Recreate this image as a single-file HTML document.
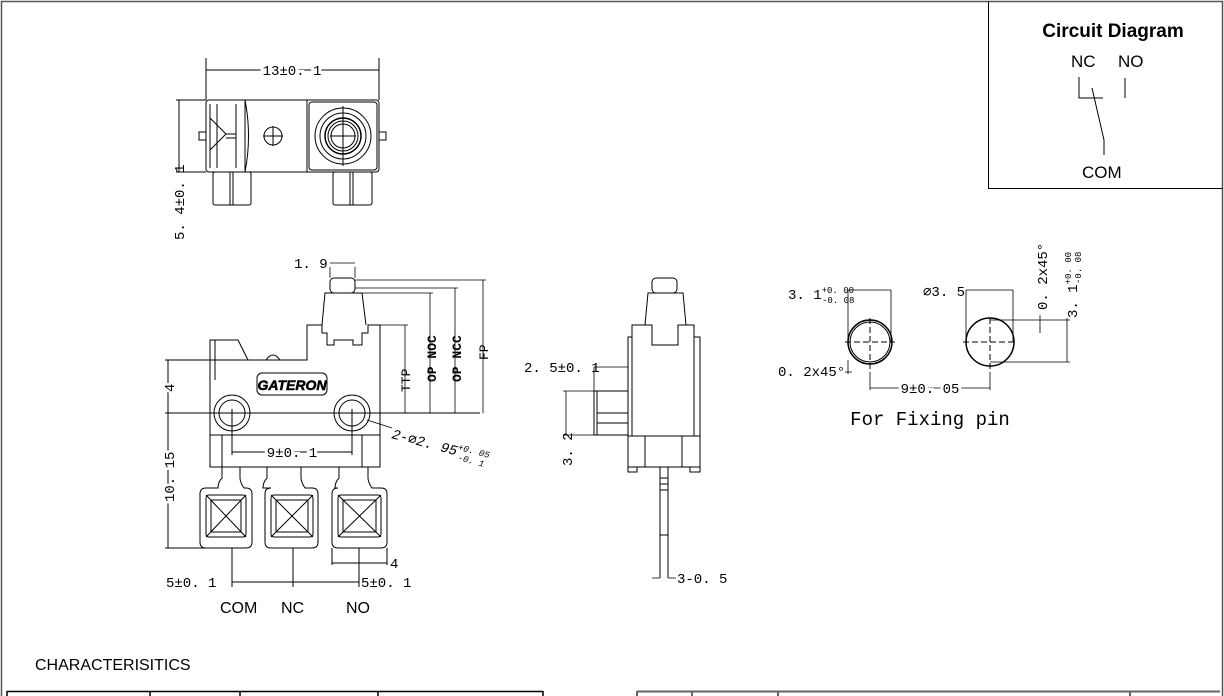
<!DOCTYPE html>
<html><head><meta charset="utf-8"><style>
html,body{margin:0;padding:0;background:#fff}
svg{display:block}
text{font-family:"Liberation Mono","DejaVu Sans Mono",monospace;fill:#000}
.s{font-family:"Liberation Sans",sans-serif}
.r{font-family:"Liberation Serif",serif}
</style></head><body>
<svg width="1224" height="696" viewBox="0 0 1224 696" xmlns="http://www.w3.org/2000/svg">
<g fill="none" stroke="#000" stroke-width="1">
<path d="M1.5 696 V1.5 H1222.5 V696" stroke="#555" stroke-width="1.5"/>
<path d="M988.5 1.5 V188.5 H1222.5"/>
<path d="M1079 77 V98 H1103 M1125 78 V98 M1092 88 L1104 140 V155"/>
<path d="M7 691.5 H543 M7 691 V696 M150 691 V696 M240 691 V696 M378 691 V696 M543 691 V696" stroke-width="1.5"/>
<path d="M637 691.5 H1220 M637 691 V696 M692 691 V696 M778 691 V696 M1130 691 V696" stroke="#666" stroke-width="2"/>

<!-- TOP VIEW -->
<path d="M206 58 V100 M379 58 V100 M206 70 H379"/>
<rect x="206" y="100" width="173" height="72" rx="3"/>
<path d="M245 100 V172 M307 100 V172 M210 104 V168 M217 104 V168 M236 104 V168"/>
<path d="M210 118 L226 134 L210 150 M226 134 H236 M226 138 H236"/>
<path d="M245 100 Q252 136 245 172"/>
<circle cx="273" cy="136" r="9"/><path d="M263 136 H283 M273 126 V146"/>
<rect x="309" y="102" width="68" height="68" rx="3"/>
<circle cx="343" cy="136" r="28"/><circle cx="343" cy="136" r="23"/><circle cx="343" cy="136" r="18" stroke-width="1.5"/><circle cx="343" cy="136" r="15"/><circle cx="343" cy="136" r="12"/>
<path d="M330 136 H356 M343 106 V166"/>
<rect x="199" y="132" width="7" height="8"/><rect x="379" y="132" width="7" height="8"/>
<rect x="213" y="172" width="38" height="33" rx="2"/><path d="M230 172 V205 M233 172 V205"/>
<rect x="333" y="172" width="39" height="33" rx="2"/><path d="M350 172 V205 M353 172 V205"/>
<path d="M176 100 H206 M176 172 H206 M179 100 V172"/>

<!-- FRONT VIEW -->
<rect x="330" y="278" width="25" height="15" rx="4"/>
<path d="M322 325 L325 293 H362 L366 325"/>
<path d="M307 360 V325 H322 V333 H327 V345 H334 V340 H353 V345 H362 V333 H368 V325 H380 V435 H210 V360 Z"/>
<path d="M210 360 V340 H220 L238 340 L248 360 M215 340 V380 M243 360 H307"/>
<path d="M266 360 Q273 350 280 360"/>
<rect x="257" y="373" width="70" height="22" rx="5"/>
<rect x="210" y="435" width="170" height="32"/>
<path d="M222 435 V467 M362 435 V467"/>
<circle cx="232" cy="413" r="18"/><circle cx="232" cy="413" r="13"/>
<circle cx="352" cy="413" r="18"/><circle cx="352" cy="413" r="13"/>
<path d="M228 413 H236 M232 409 V417 M348 413 H356 M352 409 V417"/>
<g>
<path d="M222 467 V478 Q218 482 218 488 H206 Q200 488 200 494 V542 Q200 548 206 548 H246 Q252 548 252 542 V494 Q252 488 246 488 H244 Q240 482 240 478 V467"/>
<path d="M267 467 V478 Q263 482 263 488 H271 Q265 488 265 494 V542 Q265 548 271 548 H312 Q318 548 318 542 V494 Q318 488 312 488 H305 Q301 482 301 478 V467"/>
<path d="M339 467 V478 Q335 482 335 488 H338 Q332 488 332 494 V542 Q332 548 338 548 H381 Q387 548 387 542 V494 Q387 488 381 488 H372 Q368 482 368 478 V467"/>
<rect x="206" y="495" width="40" height="42" rx="3"/><path d="M206 495 L246 537 M246 495 L206 537"/><rect x="211" y="500" width="30" height="32"/>
<rect x="271" y="495" width="42" height="42" rx="3"/><path d="M271 495 L313 537 M313 495 L271 537"/><rect x="276" y="500" width="32" height="32"/>
<rect x="338" y="495" width="43" height="42" rx="3"/><path d="M338 495 L381 537 M381 495 L338 537"/><rect x="343" y="500" width="33" height="32"/>
</g>
<path d="M165 360 H210 M165 413 H480 M165 548 H205 M168 360 V548"/>
<path d="M330 267 V278 M355 267 V278 M330 263 H355" stroke-width="0.8"/>
<path d="M355 280 H486 M355 288 H458 M355 293 H433 M380 325 H408 M405 325 V413 M430 293 V413 M455 288 V413 M483 280 V413" stroke-width="0.8"/>
<path d="M232 413 V455 M352 413 V455 M232 452 H352"/>
<path d="M232 548 V587 M293 548 V587 M359 548 V587 M232 582 H359"/>
<path d="M332 548 V565 M387 548 V565 M332 563 H387"/>
<path d="M367 420 L392 428" stroke-width="0.8"/>

<!-- SIDE VIEW -->
<rect x="652" y="278" width="25" height="15" rx="4"/>
<path d="M645 325 L648 293 H683 L686 325"/>
<path d="M628 337 H632 V325 H652 V345 H678 V325 H694 V337 H700 V436 H628 Z M632 337 V436 M694 337 V436"/>
<rect x="628" y="436" width="72" height="31"/>
<path d="M645 436 V467 M682 436 V467 M628 467 V472 H637 V467 M690 467 V472 H700 V467"/>
<path d="M660 467 V578 M668 467 V578 M660 478 H668 M660 484 H668 M660 490 H668 M660 535 H668"/>
<rect x="594" y="391" width="34" height="44"/><path d="M597 391 V435 M597 413 H628 M597 423 H628"/>
<path d="M594 367 H628 M594 367 V391 M563 391 H594 M563 435 H594 M566 391 V435" stroke-width="0.8"/>
<path d="M660 578 H652 M668 578 H676" stroke-width="0.8"/>

<!-- FIXING PIN -->
<circle cx="870" cy="342" r="22" stroke-width="1.5"/><circle cx="870" cy="342" r="20"/>
<path d="M845 342 H895 M870 318 V372" stroke-dasharray="6 3"/>
<path d="M848 290 V342 M891 290 V342 M848 290 H891 M848 360 V374 M845 372 H852" stroke-width="0.8"/>
<path d="M966 342 A24 24 0 0 1 1014 342 A24 24 0 0 1 966 342" stroke-width="1.5"/>
<path d="M963 342 H1016 M990 318 V372" stroke-dasharray="6 3"/>
<path d="M966 290 V342 M1013 290 V342 M966 290 H1013" stroke-width="0.8"/>
<path d="M990 320 H1070 M990 362 H1070 M1067 318 V362 M1040 315 V333" stroke-width="0.8"/>
<path d="M870 372 V390 M990 372 V390 M870 388 H990" stroke-width="0.8"/>
</g>

<!-- TEXT -->
<text x="1113" y="37" text-anchor="middle" class="s" font-size="19" font-weight="bold">Circuit Diagram</text>
<text x="1071" y="67" class="s" font-size="17">NC</text>
<text x="1118" y="67" class="s" font-size="17">NO</text>
<text x="1082" y="178" class="s" font-size="17">COM</text>

<text x="292" y="75" text-anchor="middle" font-size="14" style="paint-order:stroke" stroke="#fff" stroke-width="6">13±0. 1</text>
<text transform="translate(184,240) rotate(-90)" font-size="14">5. 4±0. 1</text>

<text x="294" y="268" font-size="14">1. 9</text>
<text transform="translate(410,392) rotate(-90)" font-size="13" fill="#444">TTP</text>
<text transform="translate(436,382) rotate(-90)" font-size="13" font-weight="bold">OP NOC</text>
<text transform="translate(461,382) rotate(-90)" font-size="13" font-weight="bold">OP NCC</text>
<text transform="translate(488,360) rotate(-90)" font-size="13" fill="#444">FP</text>
<text x="292" y="390" text-anchor="middle" class="s" font-size="14" font-style="italic" font-weight="bold" stroke="#000" stroke-width="0.5" fill="#fff">GATERON</text>
<text transform="translate(174,392) rotate(-90)" font-size="14" style="paint-order:stroke" stroke="#fff" stroke-width="5">4</text>
<text transform="translate(174,502) rotate(-90)" font-size="14" style="paint-order:stroke" stroke="#fff" stroke-width="5">10. 15</text>
<text x="292" y="457" text-anchor="middle" font-size="14" style="paint-order:stroke" stroke="#fff" stroke-width="6">9±0. 1</text>
<text transform="translate(391,438) rotate(15)" font-size="14" fill="#444" font-style="italic">2-⌀2. 95<tspan font-size="9" dy="-6">+0. 05</tspan><tspan font-size="9" dx="-30" dy="10">-0. 1</tspan></text>
<text x="390" y="568" font-size="14">4</text>
<text x="166" y="587" font-size="14">5±0. 1</text>
<text x="361" y="587" font-size="14">5±0. 1</text>
<text x="220" y="613" class="s" font-size="16">COM</text>
<text x="281" y="613" class="s" font-size="16">NC</text>
<text x="346" y="613" class="s" font-size="16">NO</text>

<text x="524" y="372" font-size="14">2. 5±0. 1</text>
<text transform="translate(572,466) rotate(-90)" font-size="14">3. 2</text>
<text x="677" y="583" font-size="14">3-0. 5</text>

<text x="788" y="299" font-size="14">3. 1<tspan font-size="9" dy="-6">+0. 00</tspan><tspan font-size="9" dx="-32" dy="10">-0. 08</tspan></text>
<text x="923" y="296" font-size="14">⌀3. 5</text>
<text x="778" y="376" font-size="14">0. 2x45°</text>
<text x="930" y="393" text-anchor="middle" font-size="14" style="paint-order:stroke" stroke="#fff" stroke-width="6">9±0. 05</text>
<text x="930" y="425" text-anchor="middle" font-size="19">For Fixing pin</text>
<text transform="translate(1047,310) rotate(-90)" font-size="14">0. 2x45°</text>
<text transform="translate(1077,318) rotate(-90)" font-size="14">3. 1<tspan font-size="9" dy="-6">+0. 00</tspan><tspan font-size="9" dx="-32" dy="10">-0. 08</tspan></text>

<text x="35" y="670" class="s" font-size="16">CHARACTERISITICS</text>
</svg>
</body></html>
